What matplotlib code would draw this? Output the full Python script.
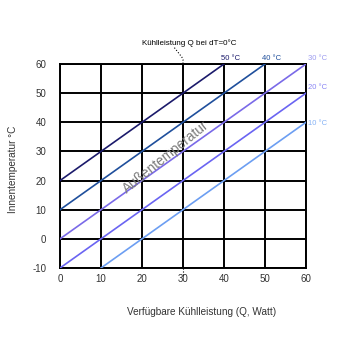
import matplotlib.pyplot as plt

plt.rcParams['font.family'] = ['Liberation Sans', 'DejaVu Sans']
plt.rcParams['axes.unicode_minus'] = False

# Außentemperatur-Kurven: Innentemperatur = Q + (T_aussen - 30)
outside_temps = [50, 40, 30, 20, 10]
line_colors = ['#1b1a6b', '#1f4f9c', '#7a6ae8', '#6a64f2', '#6c9ef2']
label_colors = ['#1b1a6b', '#1f4f9c', '#9d9cf0', '#8a86f5', '#85b2f5']
label_texts = ['50 °C', '40 °C', '30 °C', '20 °C', '10 °C']
x_ticks = [0, 10, 20, 30, 40, 50, 60]
y_ticks = [-10, 0, 10, 20, 30, 40, 50, 60]

fig = plt.figure(figsize=(3.53, 3.53), dpi=100)
ax = fig.add_axes([60 / 353, 1 - 268 / 353, 246 / 353, 204 / 353])
ax.set_xlim(0, 60)
ax.set_ylim(-10, 60)

for t, c in zip(outside_temps, line_colors):
    off = t - 30
    q0 = max(0, -10 - off)
    q1 = min(60, 60 - off)
    ax.plot([q0, q1], [q0 + off, q1 + off], color=c, lw=1.2, zorder=3)

ax.set_xticks(x_ticks)
ax.set_yticks(y_ticks)
ax.grid(True, color='black', lw=1.4)
for s in ax.spines.values():
    s.set_linewidth(1.4)
ax.tick_params(length=0, labelsize=7, colors='#333333')
ax.tick_params(axis='x', pad=4)
ax.tick_params(axis='y', pad=10)

# Beschriftungen der Linien
ax.text(41.6, 60.8, label_texts[0], color=label_colors[0], fontsize=5.5, ha='center', va='bottom')
ax.text(51.6, 60.8, label_texts[1], color=label_colors[1], fontsize=5.5, ha='center', va='bottom')
ax.text(60.6, 60.8, label_texts[2], color=label_colors[2], fontsize=5.5, ha='left', va='bottom')
ax.text(60.6, 50.8, label_texts[3], color=label_colors[3], fontsize=5.5, ha='left', va='bottom')
ax.text(60.6, 38.5, label_texts[4], color=label_colors[4], fontsize=5.5, ha='left', va='bottom')

ax.text(25.9, 28.1, 'Außentemperatur', color='#7a7a7a', fontsize=9.8, rotation=39,
        ha='center', va='center', rotation_mode='anchor', zorder=4)

ax.text(31.5, 66.0, 'Kühlleistung Q bei dT=0°C', fontsize=5.8, ha='center', va='bottom')
ax.plot([27.9, 29.7, 30, 30], [65.6, 62.4, 61.5, 60], ls=':', color='black', lw=0.8, clip_on=False)
ax.plot([30, 30], [-10, -12.5], ls=':', color='black', lw=0.8, clip_on=False)

ax.set_xlabel('Verfügbare Kühlleistung (Q, Watt)', fontsize=7.2, color='#333333')
ax.xaxis.set_label_coords(0.577, -0.19)
ax.set_ylabel('Innentemperatur °C', fontsize=7.2, color='#333333')
ax.yaxis.set_label_coords(-0.172, 0.485)

fig.savefig('out.png', dpi=100)
